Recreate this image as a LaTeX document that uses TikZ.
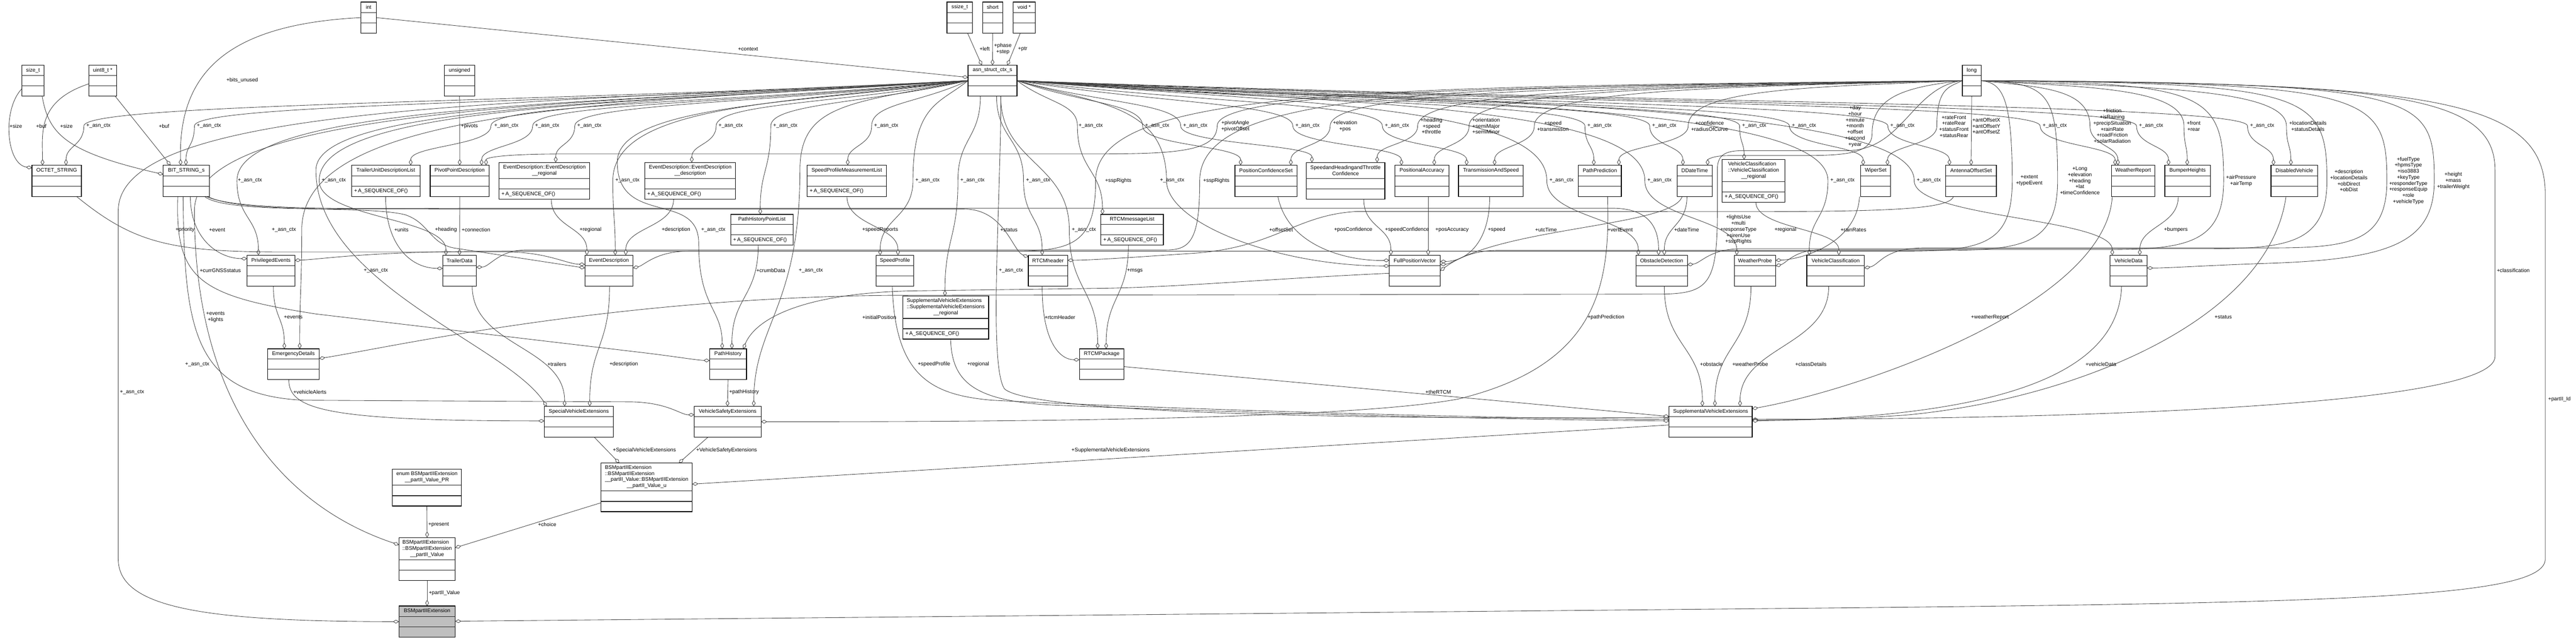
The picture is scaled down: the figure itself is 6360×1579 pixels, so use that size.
\documentclass[tikz,border=0pt]{standalone}
\usepackage{fontspec}
\setmainfont{Liberation Sans}
\usetikzlibrary{arrows.meta,calc}
\pgfdeclarelayer{edgelayer}
\pgfsetlayers{edgelayer,main}
\newcount\labn
\newcommand{\mylab}[2]{\global\advance\labn by 1\relax\node[lbl] (lab\the\labn) at (#1) {#2};}
\newcommand{\actx}{+\_asn\_ctx}
\newcommand{\seqof}{+\,A\_SEQUENCE\_OF()}
\newcommand{\umlcls}[8][]{%
  \node[clsbox,#1,minimum width={(#5-#3)*1pt},minimum height={(#6-#4)*1pt}] (#2) at ({(#3+#5)/2},{(#4+#6)/2}) {};
  \draw[clsline] ({#3},{#6-51}) -- ({#5},{#6-51});
  \draw[clsline] ({#3},{#6-25.5}) -- ({#5},{#6-25.5});
  \node[hdr] (#2-h) at ({(#3+#5)/2},{(#4+#6-51)/2}) {#7};
  \node[meth,anchor=west] (#2-m) at ({#3+6},{#6-12.75}) {#8};
}
% horizontal start, vertical arrival
\newcommand{\edgeH}[4]{%
  \coordinate (s) at (#1); \coordinate (v) at (#3); \coordinate (e) at (#4); \coordinate (yy) at (0,#2);
  \coordinate (m1) at ($(s)!.5!(v)$); \coordinate (m3) at ($(v)!.5!(e)$);
  \draw[lnk] (s) .. controls (m1 |- yy) and (v |- yy) .. (v) .. controls (v |- m3) and (e |- m3) .. (e);}
% horizontal start, side arrival
\newcommand{\edgeHS}[4]{%
  \coordinate (s) at (#1); \coordinate (v) at (#3); \coordinate (e) at (#4); \coordinate (yy) at (0,#2);
  \coordinate (m1) at ($(s)!.5!(v)$); \coordinate (m3) at ($(v)!.5!(e)$);
  \draw[lnk] (s) .. controls (m1 |- yy) and (v |- yy) .. (v) .. controls (v |- m3) and (m3 |- e) .. (e);}
% vertical start through a via point
\newcommand{\edgeV}[3]{%
  \coordinate (s) at (#1); \coordinate (v) at (#2); \coordinate (e) at (#3);
  \coordinate (m1) at ($(s)!.5!(v)$); \coordinate (m3) at ($(v)!.5!(e)$);
  \draw[lnk] (s) .. controls (s |- m1) and (v |- m1) .. (v) .. controls (v |- m3) and (e |- m3) .. (e);}
% vertical S curve
\newcommand{\edgeS}[2]{%
  \coordinate (s) at (#1); \coordinate (e) at (#2); \coordinate (m3) at ($(s)!.5!(e)$);
  \draw[lnk] (s) .. controls (s |- m3) and (e |- m3) .. (e);}
\begin{document}
\begin{tikzpicture}[x=1pt,y=-1pt,
  clsbox/.style={draw=black,line width=1.6pt,fill=white,rectangle,inner sep=0pt,outer sep=0pt},
  clsline/.style={draw=black!85,line width=1.6pt},
  hdr/.style={inner sep=0pt,align=center,font=\fontsize{13}{15}\selectfont},
  meth/.style={inner sep=0pt,font=\fontsize{13}{15}\selectfont},
  lbl/.style={inner sep=0pt,align=center,font=\fontsize{13}{15}\selectfont},
  lnk/.style={draw=black!75,line width=1.1pt,-{Diamond[length=15pt,width=9pt,fill=white]}}]
\useasboundingbox (0,0) rectangle (6360,1579);

% ---------- classes ----------
\umlcls{int}{891}{5}{929}{82}{int}{}
\umlcls{ssizet}{2338}{5}{2401}{82}{ssize\_t}{}
\umlcls{short}{2426}{5}{2476}{82}{short}{}
\umlcls{voidp}{2501}{5}{2556}{82}{void *}{}
\umlcls{sizet}{54}{161}{109}{237}{size\_t}{}
\umlcls{uint8}{219}{161}{288}{237}{uint8\_t *}{}
\umlcls{unsigned}{1097}{161}{1172}{237}{unsigned}{}
\umlcls{asn}{2390}{161}{2511}{237}{asn\_struct\_ctx\_s}{}
\umlcls{long}{4845}{161}{4891}{237}{long}{}

\umlcls{octet}{79}{408}{201}{485}{OCTET\_STRING}{}
\umlcls{bitstr}{403}{408}{517}{485}{BIT\_STRING\_s}{}
\umlcls{tudl}{868}{408}{1037}{485}{TrailerUnitDescriptionList}{\seqof}
\umlcls{ppd}{1062}{408}{1208}{485}{PivotPointDescription}{}
\umlcls{edreg}{1232}{401}{1456}{492}{EventDescription::EventDescription\\\_\_regional}{\seqof}
\umlcls{eddesc}{1592}{401}{1816}{492}{EventDescription::EventDescription\\\_\_description}{\seqof}
\umlcls{spml}{1993}{408}{2188}{485}{SpeedProfileMeasurementList}{\seqof}
\umlcls{pcs}{3049}{408}{3202}{485}{PositionConfidenceSet}{}
\umlcls{shtc}{3225}{401}{3419}{492}{SpeedandHeadingandThrottle\\Confidence}{}
\umlcls{pacc}{3444}{408}{3577}{485}{PositionalAccuracy}{}
\umlcls{tas}{3601}{408}{3761}{485}{TransmissionAndSpeed}{}
\umlcls{ppred}{3897}{408}{4003}{485}{PathPrediction}{}
\umlcls{ddt}{4141}{408}{4227}{485}{DDateTime}{}
\umlcls{vcreg}{4252}{394}{4407}{499}{\begin{tabular}{@{}l@{}}VehicleClassification\\::VehicleClassification\\\multicolumn{1}{@{}c@{}}{\_\_regional}\end{tabular}}{\seqof}
\umlcls{wiper}{4594}{408}{4668}{485}{WiperSet}{}
\umlcls{aos}{4804}{408}{4929}{485}{AntennaOffsetSet}{}
\umlcls{wrep}{5213}{408}{5320}{485}{WeatherReport}{}
\umlcls{bump}{5345}{408}{5457}{485}{BumperHeights}{}
\umlcls{disveh}{5607}{408}{5722}{485}{DisabledVehicle}{}
\umlcls{phpl}{1804}{529}{1958}{605}{PathHistoryPointList}{\seqof}
\umlcls{rtcmml}{2718}{529}{2872}{605}{RTCMmessageList}{\seqof}

\umlcls{priv}{610}{630}{728}{707}{PrivilegedEvents}{}
\umlcls{trailer}{1093}{630}{1176}{707}{TrailerData}{}
\umlcls{evdesc}{1444}{630}{1563}{707}{EventDescription}{}
\umlcls{spprof}{2163}{630}{2256}{707}{SpeedProfile}{}
\umlcls{rtcmh}{2539}{630}{2636}{707}{RTCMheader}{}
\umlcls{fpv}{3430}{630}{3556}{707}{FullPositionVector}{}
\umlcls{obst}{4039}{630}{4166}{707}{ObstacleDetection}{}
\umlcls{wprobe}{4282}{630}{4384}{707}{WeatherProbe}{}
\umlcls{vclass}{4461}{630}{4603}{707}{VehicleClassification}{}
\umlcls{vdata}{5209}{630}{5301}{707}{VehicleData}{}
\umlcls{svereg}{2229}{731}{2441}{837}{\begin{tabular}{@{}l@{}}SupplementalVehicleExtensions\\::SupplementalVehicleExtensions\\\multicolumn{1}{@{}c@{}}{\_\_regional}\end{tabular}}{\seqof}
\umlcls{emerg}{661}{861}{788}{937}{EmergencyDetails}{}
\umlcls{phist}{1752}{861}{1843}{937}{PathHistory}{}
\umlcls{rtcmpkg}{2665}{861}{2775}{937}{RTCMPackage}{}
\umlcls{specve}{1344}{1003}{1514}{1079}{SpecialVehicleExtensions}{}
\umlcls{vse}{1714}{1003}{1879}{1079}{VehicleSafetyExtensions}{}
\umlcls{suppve}{4121}{1003}{4326}{1079}{SupplementalVehicleExtensions}{}
\umlcls{pvu}{1484}{1143}{1709}{1263}{\begin{tabular}{@{}l@{}}BSMpartIIExtension\\::BSMpartIIExtension\\\_\_partII\_Value::BSMpartIIExtension\\\multicolumn{1}{@{}c@{}}{\_\_partII\_Value\_u}\end{tabular}}{}
\umlcls{pvpr}{969}{1158}{1139}{1249}{enum BSMpartIIExtension\\\_\_partII\_Value\_PR}{}
\umlcls{pv}{985}{1327}{1124}{1433}{\begin{tabular}{@{}l@{}}BSMpartIIExtension\\::BSMpartIIExtension\\\multicolumn{1}{@{}c@{}}{\_\_partII\_Value}\end{tabular}}{}
\umlcls[fill=black!25]{bsm}{985}{1496}{1124}{1573}{BSMpartIIExtension}{}

% ---------- labels ----------
\mylab{598,198}{+bits\_unused}
\mylab{1847,121}{+context}
\mylab{39,311}{+size}
\mylab{102,311}{+buf}
\mylab{164,311}{+size}
\mylab{243,311}{\actx}
\mylab{405,311}{+buf}
\mylab{516,311}{\actx}
\mylab{1159,311}{+pivots}
\foreach \xx in {1250,1351,1455,1804,1939,2188,2693,2857,2951,3228,3449,3949,4109,4331,4454,4697,5073,5311,5585} {\mylab{\xx,311}{\actx}}
\mylab{2431,121}{+left}
\mylab{2476,121}{+phase\\+step}
\mylab{2525,121}{+ptr}
\mylab{3050,311}{+pivotAngle\\+pivotOffset}
\mylab{3321,311}{+elevation\\+pos}
\mylab{3534,311}{+heading\\+speed\\+throttle}
\mylab{3669,311}{+orientation\\+semiMajor\\+semiMinor}
\mylab{3834,311}{+speed\\+transmisson}
\mylab{4221,311}{+confidence\\+radiusOfCurve}
\mylab{4580,312}{+day\\+hour\\+minute\\+month\\+offset\\+second\\+year}
\mylab{4824,312}{+rateFront\\+rateRear\\+statusFront\\+statusRear}
\mylab{4904,311}{+antOffsetX\\+antOffsetY\\+antOffsetZ}
\mylab{5215,311}{+friction\\+isRaining\\+precipSituation\\+rainRate\\+roadFriction\\+solarRadiation}
\mylab{5416,311}{+front\\+rear}
\mylab{5698,311}{+locationDetails\\+statusDetails}
\foreach \xx in {617,824,1549,2290,2401,2563,2894,3855,4097,4549,4762} {\mylab{\xx,446}{\actx}}
\mylab{2761,446}{+sspRights}
\mylab{3003,446}{+sspRights}
\mylab{5010,446}{+extent\\+typeEvent}
\mylab{5135,446}{+Long\\+elevation\\+heading\\+lat\\+timeConfidence}
\mylab{5533,446}{+airPressure\\+airTemp}
\mylab{5799,446}{+description\\+locationDetails\\+obDirect\\+obDist}
\mylab{5946,446}{+fuelType\\+hpmsType\\+iso3883\\+keyType\\+responderType\\+responseEquip\\+role\\+vehicleType}
\mylab{6057,446}{+height\\+mass\\+trailerWeight}
\mylab{457,567}{+priority}
\mylab{536,567}{+event}
\mylab{701,567}{\actx}
\mylab{991,567}{+units}
\mylab{1101,567}{+heading}
\mylab{1175,567}{+connection}
\mylab{1458,567}{+regional}
\mylab{1669,567}{+description}
\mylab{1761,567}{\actx}
\mylab{2173,567}{+speedReports}
\mylab{2491,567}{+status}
\mylab{2676,567}{\actx}
\mylab{3163,567}{+offsetSet}
\mylab{3341,567}{+posConfidence}
\mylab{3474,567}{+speedConfidence}
\mylab{3585,567}{+posAccuracy}
\mylab{3695,567}{+speed}
\mylab{3817,567}{+utcTime}
\mylab{4000,567}{+vertEvent}
\mylab{4164,567}{+dateTime}
\mylab{4292,567}{+lightsUse\\+multi\\+responseType\\+sirenUse\\+sspRights}
\mylab{4408,567}{+regional}
\mylab{4576,567}{+rainRates}
\mylab{5372,567}{+bumpers}
\mylab{544,668}{+currGNSSstatus}
\mylab{928,668}{\actx}
\mylab{1903,668}{+crumbData}
\mylab{2002,668}{\actx}
\mylab{2496,668}{\actx}
\mylab{2802,668}{+msgs}
\mylab{6205,668}{+classification}
\mylab{532,783}{+events\\+lights}
\mylab{724,783}{+events}
\mylab{2171,783}{+initialPosition}
\mylab{2617,783}{+rtcmHeader}
\mylab{3965,783}{+pathPrediction}
\mylab{4913,783}{+weatherReport}
\mylab{5489,783}{+status}
\mylab{487,899}{\actx}
\mylab{1375,899}{+trailers}
\mylab{1540,899}{+description}
\mylab{2306,899}{+speedProfile}
\mylab{2415,899}{+regional}
\mylab{4225,899}{+obstacle}
\mylab{4321,899}{+weatherProbe}
\mylab{4471,899}{+classDetails}
\mylab{5187,899}{+vehicleData}
\mylab{326,968}{\actx}
\mylab{765,968}{+vehicleAlerts}
\mylab{1837,968}{+pathHistory}
\mylab{3551,968}{+theRTCM}
\mylab{6319,986}{+partII\_Id}
\mylab{1591,1111}{+SpecialVehicleExtensions}
\mylab{1794,1111}{+VehicleSafetyExtensions}
\mylab{2742,1111}{+SupplementalVehicleExtensions}
\mylab{1083,1295}{+present}
\mylab{1351,1295}{+choice}
\mylab{1097,1464}{+partII\_Value}

% ---------- connectors ----------
\begin{pgfonlayer}{edgelayer}
% basic types
\draw[lnk] (int.west) .. controls (560,60) and (440,180) .. ([xshift=43]bitstr.north west);
\draw[lnk] (int.east) -- ([yshift=8]asn.west);
\draw[lnk] ([yshift=-20]sizet.west) .. controls (5,270) and (15,405) .. ([yshift=32]octet.west);
\draw[lnk] ([xshift=50]sizet.south west) .. controls (120,330) and (160,375) .. ([yshift=16]bitstr.west);
\draw[lnk] ([yshift=-8]uint8.west) .. controls (90,250) and (105,330) .. ([xshift=26]octet.north west);
\draw[lnk] ([xshift=-4]uint8.south east) -- ([xshift=18]bitstr.north west);
\draw[lnk] ([xshift=51]ssizet.south west) -- ([xshift=34]asn.north west);
\draw[lnk] (short.south) -- (asn.north);
\draw[lnk] ([xshift=18]voidp.south west) -- ([xshift=-24]asn.north east);
\draw[lnk] (unsigned.south) -- (ppd.north);
\draw[lnk] (ppd.south) -- (trailer.north);

% asn_struct_ctx_s -> first row
\edgeH{asn.west}{255}{207,311}{[xshift=84]octet.north west}
\edgeH{asn.west}{255}{480,311}{[xshift=56]bitstr.north west}
\edgeH{asn.west}{255}{1212,311}{[xshift=146]tudl.north west}
\edgeH{asn.west}{255}{1315,311}{[xshift=127]ppd.north west}
\edgeH{asn.west}{255}{1419,311}{[xshift=140]edreg.north west}
\edgeH{asn.west}{255}{1768,311}{[xshift=116]eddesc.north west}
\edgeH{asn.west}{255}{1903,311}{[xshift=73]phpl.north west}
\edgeH{asn.west}{255}{2152,311}{[xshift=100]spml.north west}
\edgeH{asn.east}{255}{2660,311}{[xshift=4]rtcmml.north west}
\edgeH{asn.east}{255}{2821,311}{[xshift=14]pcs.north west}
\edgeH{asn.east}{255}{2915,311}{[xshift=14]shtc.north west}
\edgeH{asn.east}{255}{3192,311}{[xshift=16]pacc.north west}
\edgeH{asn.east}{255}{3413,311}{[xshift=20]tas.north west}
\edgeH{asn.east}{255}{3913,311}{[xshift=38]ppred.north west}
\edgeH{asn.east}{255}{4073,311}{[xshift=14]ddt.north west}
\edgeH{asn.east}{255}{4295,311}{[xshift=54]vcreg.north west}
\edgeH{asn.east}{255}{4418,311}{[xshift=6]wiper.north west}
\edgeH{asn.east}{255}{4661,311}{[xshift=9]aos.north west}
\edgeH{asn.east}{255}{5037,311}{[xshift=9]wrep.north west}
\edgeH{asn.east}{255}{5275,311}{[xshift=9]bump.north west}
\edgeH{asn.east}{255}{5549,311}{[xshift=6]disveh.north west}
% asn_struct_ctx_s -> lower rows
\edgeH{asn.west}{255}{585,446}{[xshift=28]priv.north west}
\edgeH{asn.west}{255}{788,446}{[xshift=8]trailer.north west}
\edgeH{asn.west}{255}{1513,446}{[xshift=75]evdesc.north west}
\edgeH{asn.west}{255}{2254,446}{[xshift=10]spprof.north west}
\edgeV{[xshift=-30]asn.south}{2365,446}{[xshift=104]svereg.north west}
\edgeV{[xshift=10]asn.south}{2527,446}{[xshift=34]rtcmh.north west}
\edgeHS{asn.east}{255}{2880,446}{[yshift=12]fpv.west}
\edgeH{asn.east}{255}{3819,446}{[xshift=6]obst.north west}
\edgeH{asn.east}{255}{4061,446}{[xshift=6]wprobe.north west}
\edgeH{asn.east}{255}{4513,446}{[xshift=6]vclass.north west}
\edgeH{asn.east}{255}{4726,446}{[xshift=6]vdata.north west}
\edgeH{asn.west}{255}{745,567}{[xshift=79]emerg.north west}
\draw[lnk] (asn.west) .. controls (2000,255) and (1524,255) .. (1524,400) .. controls (1524,560) and (1725,470) .. (1725,600) .. controls (1725,760) and (1783,760) .. ([xshift=31]phist.north west);
\edgeV{[xshift=20]asn.south}{2640,567}{[xshift=45]rtcmpkg.north west}
\draw[lnk] (asn.west) .. controls (1600,255) and (780,255) .. (780,420) .. controls (780,700) and (1250,850) .. ([xshift=6]specve.north west);
\draw[lnk] (asn.west) .. controls (2100,255) and (1975,255) .. (1975,420) .. controls (1975,760) and (1861,800) .. ([xshift=147]vse.north west);
\draw[lnk] ([xshift=-40]asn.south east) .. controls (2471,500) and (2440,900) .. (2480,960) .. controls (2560,1030) and (3600,1035) .. ([yshift=11]suppve.west);
\draw[lnk] (asn.west) .. controls (1500,255) and (480,255) .. (480,520) .. controls (480,1000) and (700,1250) .. ([yshift=35]pv.west);
\draw[lnk] (asn.west) .. controls (1300,255) and (292,255) .. (292,520) -- (292,1380) .. controls (292,1500) and (500,1534) .. (bsm.west);

% long -> first row
\draw[lnk] (long.west) .. controls (3900,215) and (3005,215) .. (3005,311) .. controls (3005,375) and (2900,380) .. (2700,380) -- (1400,380) .. controls (1230,380) and (1200,390) .. ([xshift=138]ppd.north west);
\edgeH{long.west}{215}{3284,311}{[xshift=138]pcs.north west}
\edgeH{long.west}{215}{3500,311}{[xshift=175]shtc.north west}
\edgeH{long.west}{215}{3627,311}{[xshift=97]pacc.north west}
\edgeH{long.west}{215}{3788,311}{[xshift=89]tas.north west}
\edgeH{long.west}{215}{4168,311}{[xshift=100]ppred.north west}
\draw[lnk] (long.west) .. controls (4700,215) and (4622,240) .. (4622,330) .. controls (4622,378) and (4560,384) .. (4450,384) -- (4270,384) .. controls (4225,384) and (4216,395) .. ([xshift=75]ddt.north west);
\edgeH{long.west}{215}{4782,311}{[xshift=66]wiper.north west}
\draw[lnk] (long.south) -- (aos.north);
\edgeH{long.east}{215}{5160,311}{[xshift=16]wrep.north west}
\edgeH{long.east}{215}{5392,311}{[xshift=55]bump.north west}
\edgeH{long.east}{215}{5645,311}{[xshift=49]disveh.north west}
% long -> lower rows
\draw[lnk] (long.west) .. controls (3400,215) and (2705,215) .. (2705,446) .. controls (2705,600) and (2650,620) .. (2500,620) -- (1250,620) .. controls (900,620) and (800,640) .. ([yshift=26]priv.east);
\draw[lnk] (long.west) .. controls (3600,215) and (2962,215) .. (2962,446) .. controls (2962,590) and (2940,617) .. (2880,617) -- (1300,617) .. controls (1230,617) and (1210,659) .. ([yshift=9]trailer.east);
\draw[lnk] (long.east) .. controls (4940,205) and (4968,230) .. (4968,446) .. controls (4968,600) and (4900,620) .. (4700,620) -- (1700,620) .. controls (1620,620) and (1590,655) .. ([yshift=7]evdesc.east);
\draw[lnk] (long.east) .. controls (5060,205) and (5080,230) .. (5080,446) .. controls (5080,600) and (5000,618) .. (4800,618) -- (3700,618) .. controls (3620,618) and (3590,650) .. ([yshift=15]fpv.east);
\draw[lnk] (long.east) .. controls (5450,205) and (5490,230) .. (5490,446) .. controls (5490,600) and (5400,616) .. (5200,616) -- (4500,616) .. controls (4430,616) and (4410,650) .. ([yshift=12]wprobe.east);
\draw[lnk] (long.east) .. controls (5700,205) and (5745,230) .. (5745,446) .. controls (5745,600) and (5650,614) .. (5450,614) -- (4300,614) .. controls (4220,614) and (4200,650) .. ([yshift=15]obst.east);
\draw[lnk] (long.east) .. controls (5850,205) and (5893,230) .. (5893,446) .. controls (5893,600) and (5800,612) .. (5600,612) -- (4750,612) .. controls (4650,612) and (4640,655) .. ([yshift=7]vclass.east);
\draw[lnk] (long.east) .. controls (5980,205) and (6010,230) .. (6010,446) .. controls (6010,600) and (5900,640) .. (5600,650) .. controls (5450,655) and (5350,662) .. ([yshift=7]vdata.east);
\draw[lnk] (long.west) .. controls (4720,215) and (4700,370) .. (4560,372) -- (4300,372) .. controls (4250,372) and (4240,390) .. (4240,420) -- (4240,520) .. controls (4240,700) and (4220,725) .. (4100,726) -- (2200,729) .. controls (1500,735) and (950,860) .. ([yshift=14]emerg.east);
\draw[lnk] (long.east) .. controls (5900,205) and (6160,230) .. (6160,420) -- (6160,880) .. controls (6160,1010) and (5000,1035) .. ([yshift=6]suppve.east);
\draw[lnk] (long.east) .. controls (6000,205) and (6284,240) .. (6284,480) -- (6284,1380) .. controls (6284,1475) and (5800,1488) .. (4500,1501) -- ([yshift=1]bsm.east);

% BIT_STRING_s / OCTET_STRING
\draw[lnk] ([xshift=67]bitstr.south west) .. controls (470,590) and (540,638) .. ([yshift=30]priv.west);
\draw[lnk] ([xshift=110]octet.south west) .. controls (330,600) and (420,622) .. (700,622) -- (1250,622) .. controls (1350,622) and (1400,652) .. ([yshift=16]evdesc.west);
\draw[lnk] ([xshift=-12]bitstr.south east) .. controls (560,530) and (900,505) .. (1000,530) .. controls (1060,550) and (1060,600) .. (1120,612) -- ([yshift=7]evdesc.west);
\draw[lnk] ([xshift=-4]bitstr.south east) .. controls (580,520) and (800,516) .. (1100,516) -- (2380,516) .. controls (2480,516) and (2500,620) .. ([yshift=34]rtcmh.west);
\draw[lnk] ([xshift=-8]bitstr.south east) .. controls (590,522) and (900,514) .. (1200,514) -- (3980,514) .. controls (4070,514) and (4095,560) .. ([xshift=56]obst.north west);
\draw[lnk] ([xshift=36]bitstr.south west) .. controls (432,690) and (490,730) .. (780,775) -- (1600,872) .. controls (1680,882) and (1720,889) .. ([yshift=9]phist.west);
\draw[lnk] ([xshift=49]bitstr.south west) .. controls (455,820) and (480,975) .. (750,988) -- (1560,992) .. controls (1650,994) and (1680,1024) .. ([yshift=17]vse.west);

% mid-level structures
\draw[lnk] ([xshift=84]tudl.south west) .. controls (952,600) and (1010,662) .. ([yshift=6]trailer.west);
\edgeS{[xshift=98]spml.south west}{[xshift=54]spprof.north west}
\edgeS{[xshift=129]edreg.south west}{[xshift=5]evdesc.north west}
\edgeS{[xshift=71]eddesc.south west}{[xshift=101]evdesc.north west}
\edgeS{[xshift=68]phpl.south west}{[xshift=55]phist.north west}
\edgeS{[xshift=68]rtcmml.south west}{[xshift=66]rtcmpkg.north west}
\draw[lnk] ([xshift=34]rtcmh.south west) .. controls (2573,850) and (2620,888) .. ([yshift=11]rtcmpkg.west);
\draw[lnk] ([xshift=19]aos.south west) .. controls (4810,530) and (4500,522) .. (3800,522) -- (3350,522) .. controls (3200,530) and (3150,610) .. (2950,625) .. controls (2800,635) and (2700,642) .. ([yshift=26]rtcmh.east);
\draw[lnk] ([xshift=106]pcs.south west) .. controls (3180,610) and (3330,645) .. ([yshift=26]fpv.west);
\edgeS{[xshift=142]shtc.south west}{[xshift=4]fpv.north west}
\edgeS{[xshift=82]pacc.south west}{[xshift=96]fpv.north west}
\draw[lnk] ([xshift=77]tas.south west) .. controls (3678,600) and (3620,645) .. ([yshift=23]fpv.east);
\draw[lnk] ([xshift=12]ddt.south west) .. controls (4130,560) and (3700,560) .. ([yshift=0]fpv.east);
\edgeS{[xshift=24]ddt.south west}{[xshift=70]obst.north west}
\draw[lnk] ([xshift=72]ppred.south west) .. controls (3975,700) and (3950,900) .. (3600,985) .. controls (3300,1041) and (2300,1041) .. (vse.east);
\draw[lnk] ([xshift=-3]wiper.south west) .. controls (4585,600) and (4450,640) .. ([yshift=26]wprobe.east);
\edgeS{[xshift=83]vcreg.south west}{[xshift=79]vclass.north west}
\edgeS{[xshift=33]bump.south west}{[xshift=74]vdata.north west}
\draw[lnk] ([xshift=2]wrep.south west) .. controls (5200,750) and (4600,960) .. ([yshift=32]suppve.east);
\draw[lnk] ([xshift=37]disveh.south west) .. controls (5600,800) and (5100,990) .. (4700,1025) .. controls (4500,1038) and (4400,1037) .. ([yshift=4]suppve.east);
\draw[lnk] ([xshift=29]vdata.south west) .. controls (5230,920) and (4950,1030) .. ([yshift=2]suppve.east);
\edgeS{[xshift=54]vclass.south west}{[xshift=175]suppve.north west}
\edgeS{[xshift=41]wprobe.south west}{[xshift=113]suppve.north west}
\edgeS{[xshift=70]obst.south west}{[xshift=82]suppve.north west}
\draw[lnk] ([xshift=40]spprof.south west) .. controls (2210,930) and (2300,975) .. (2450,988) .. controls (3000,1015) and (3800,1035) .. ([yshift=6]suppve.west);
\draw[lnk] ([xshift=118]svereg.south west) .. controls (2350,940) and (2400,990) .. (2600,1000) .. controls (3200,1025) and (3900,1038) .. ([yshift=2]suppve.west);
\draw[lnk] ([yshift=-6]rtcmpkg.east) -- ([yshift=13]suppve.west);
\draw[lnk] ([yshift=-6]fpv.west) .. controls (3100,690) and (2900,710) .. (2700,712) -- (2250,718) .. controls (1950,725) and (1860,800) .. ([xshift=-8]phist.north east);
\edgeS{[xshift=65]priv.south west}{[xshift=41]emerg.north west}
\draw[lnk] ([xshift=52]emerg.south west) .. controls (713,1010) and (800,1039) .. ([yshift=2]specve.west);
\edgeS{[xshift=73]trailer.south west}{[xshift=50]specve.north west}
\edgeS{[xshift=61]evdesc.south west}{[xshift=112]specve.north west}
\draw[lnk] (phist.south) -- ([xshift=82]vse.north west);

% BSMpartIIExtension part
\draw[lnk] ([yshift=-8]suppve.west) -- ([yshift=8]pvu.east);
\draw[lnk] ([xshift=123]specve.south west) -- ([xshift=45]pvu.north west);
\draw[lnk] ([xshift=34]vse.south west) -- ([xshift=192]pvu.north west);
\draw[lnk] ([yshift=-38]pvu.west) -- ([yshift=28]pv.east);
\draw[lnk] (pvpr.south) -- (pv.north);
\draw[lnk] (pv.south) -- (bsm.north);
\end{pgfonlayer}
\end{tikzpicture}
\end{document}
